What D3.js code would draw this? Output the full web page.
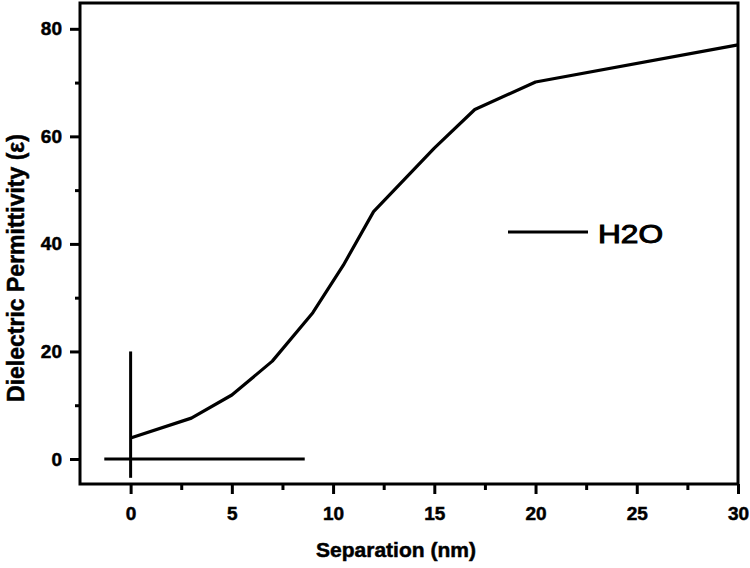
<!DOCTYPE html>
<html>
<head>
<meta charset="utf-8">
<script src="https://cdn.jsdelivr.net/npm/d3@7"></script>
<style>
  html, body { margin: 0; padding: 0; background: #fff; }
  svg { display: block; font-family: "Liberation Sans", Arial, Helvetica, sans-serif; }
</style>
</head>
<body>
<svg id="chart" width="750" height="568"></svg>
<script>
// ---- data ----
const separation = [0, 3, 5, 7, 9, 10.5, 12, 15, 17, 20, 30];
const permittivity = [3.9, 7.6, 11.9, 18.2, 27.2, 36, 46, 57.8, 65, 70.1, 77];
const crossVertical = [[0, 20], [0, -3.5]];
const crossHorizontal = [[-1.3, 0], [8.6, 0]];
const xTicks = [0, 5, 10, 15, 20, 25, 30];
const xMinorTicks = [2.5, 7.5, 12.5, 17.5, 22.5, 27.5];
const yTicks = [0, 20, 40, 60, 80];
const yMinorTicks = [10, 30, 50, 70];
const seriesName = "H2O";
const xTitle = "Separation (nm)";
const yTitle = "Dielectric Permittivity (\u03b5)";

// ---- layout ----
const L = 80, R = 738, T = 3, B = 484;
const svg = d3.select("#chart");
const x = d3.scaleLinear().domain([-2.5, 30]).range([L, R]);
const y = d3.scaleLinear().domain([-4.65, 84.8]).range([B, T]);

// frame
svg.append("rect")
  .attr("x", L).attr("y", T).attr("width", R - L).attr("height", B - T)
  .attr("fill", "none").attr("stroke", "#000").attr("stroke-width", 3);

// x axis
svg.append("g").attr("transform", `translate(0,${B})`)
  .call(d3.axisBottom(x).tickValues(xTicks).tickSize(10).tickPadding(13).tickFormat(d3.format("d")));
svg.append("g").attr("transform", `translate(0,${B})`)
  .call(d3.axisBottom(x).tickValues(xMinorTicks).tickSize(6).tickFormat(""));

// y axis
svg.append("g").attr("transform", `translate(${L},0)`)
  .call(d3.axisLeft(y).tickValues(yTicks).tickSize(10).tickPadding(8).tickFormat(d3.format("d")));
svg.append("g").attr("transform", `translate(${L},0)`)
  .call(d3.axisLeft(y).tickValues(yMinorTicks).tickSize(5).tickFormat(""));

svg.selectAll(".domain").remove();
svg.selectAll(".tick line").attr("stroke", "#000").attr("stroke-width", 3);
svg.selectAll(".tick text")
  .attr("fill", "#000").attr("stroke", "#000").attr("stroke-width", 0.5)
  .style("font-size", "19px").style("font-weight", "bold")
  .style("font-family", "'Liberation Sans', Arial, sans-serif");

// axis titles
svg.append("text")
  .attr("x", (L + R) / 2 - 13).attr("y", 557)
  .attr("text-anchor", "middle")
  .attr("stroke", "#000").attr("stroke-width", 0.5)
  .style("font-size", "21px").style("font-weight", "bold")
  .text(xTitle);

svg.append("text")
  .attr("transform", "translate(24,268) rotate(-90)")
  .attr("text-anchor", "middle")
  .attr("stroke", "#000").attr("stroke-width", 0.5)
  .style("font-size", "23px").style("font-weight", "bold")
  .text(yTitle);

// cross lines
const line = d3.line().x(d => x(d[0])).y(d => y(d[1]));
svg.append("path").datum(crossVertical).attr("d", line)
  .attr("fill", "none").attr("stroke", "#000").attr("stroke-width", 3);
svg.append("path").datum(crossHorizontal).attr("d", line)
  .attr("fill", "none").attr("stroke", "#000").attr("stroke-width", 3);

// series
const pts = separation.map((s, i) => [s, permittivity[i]]);
svg.append("path").datum(pts).attr("d", line)
  .attr("fill", "none").attr("stroke", "#000").attr("stroke-width", 3.2)
  .attr("stroke-linejoin", "round");

// legend
svg.append("line")
  .attr("x1", 508).attr("x2", 588).attr("y1", 232).attr("y2", 232)
  .attr("stroke", "#000").attr("stroke-width", 3);
svg.append("text")
  .attr("x", 598).attr("y", 243)
  .attr("textLength", 65).attr("lengthAdjust", "spacingAndGlyphs")
  .style("font-size", "25px").style("font-weight", "normal")
  .attr("stroke", "#000").attr("stroke-width", 1)
  .text(seriesName);
</script>
</body>
</html>
